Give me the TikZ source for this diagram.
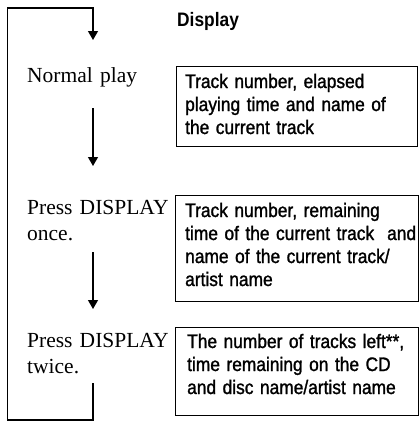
\documentclass[tikz,border=0pt]{standalone}
\usepackage{fontspec}
\setmainfont{Liberation Serif}
\newfontfamily\boxfont[FakeStretch=0.89,FakeBold=1.3]{Liberation Sans}
\newfontfamily\headfont[FakeStretch=0.89]{Liberation Sans Bold}
\usetikzlibrary{arrows.meta}
\begin{document}
\begin{tikzpicture}[x=1pt,y=-1pt,
  line/.style={line width=1.2pt},
  flow/.style={line, -{Triangle[width=10pt,length=9pt]}},
  infobox/.style={draw, line width=1.2pt, inner sep=0pt, anchor=north west},
  infotext/.style={anchor=base west, inner sep=0pt, text width=235pt, align=left,
    font=\boxfont\fontsize{19.5}{23}\selectfont},
  steptext/.style={anchor=base west, inner sep=0pt, text width=145pt, align=left,
    font=\fontsize{21.5}{26}\selectfont}]
\useasboundingbox (0,0) rectangle (420,423);
% heading
\node[anchor=base west, inner sep=0pt, font=\headfont\fontsize{19.5}{23}\selectfont] (head) at (177,27) {Display};
% steps
\node[steptext] (np) at (27,82) {Normal play};
\node[steptext] (p1) at (27,214) {Press DISPLAY\\once.};
\node[steptext] (p2) at (27,347) {Press DISPLAY\\twice.};
% boxes
\node[infobox, minimum width=241pt, minimum height=80pt] (b1) at (176,66) {};
\node[infobox, minimum width=243pt, minimum height=106pt] (b2) at (175,195) {};
\node[infobox, minimum width=243pt, minimum height=88pt] (b3) at (175,327) {};
\node[infotext] (t1) at (185,88) {Track number, elapsed\\playing time and name of\\the current track};
\node[infotext] (t2) at (185,217) {Track number, remaining\\time of the current track\ \ and\\name of the current track/\\artist name};
\node[infotext] (t3) at (187,348) {The number of tracks left**,\\time remaining on the CD\\and disc name/artist name};
% connectors
\coordinate (top) at (93,8);
\coordinate (in0) at (93,40);
\coordinate (out0) at (93,108);
\coordinate (in1) at (93,166);
\coordinate (out1) at (93,252);
\coordinate (in2) at (93,309);
\coordinate (out2) at (93,383);
\coordinate (bl) at (7.5,420);
\coordinate (tl) at (7.5,8);
\draw[flow] (out2) |- (bl) -- (tl) -- (top) -- (in0);
\draw[flow] (out0) -- (in1);
\draw[flow] (out1) -- (in2);
\end{tikzpicture}
\end{document}
